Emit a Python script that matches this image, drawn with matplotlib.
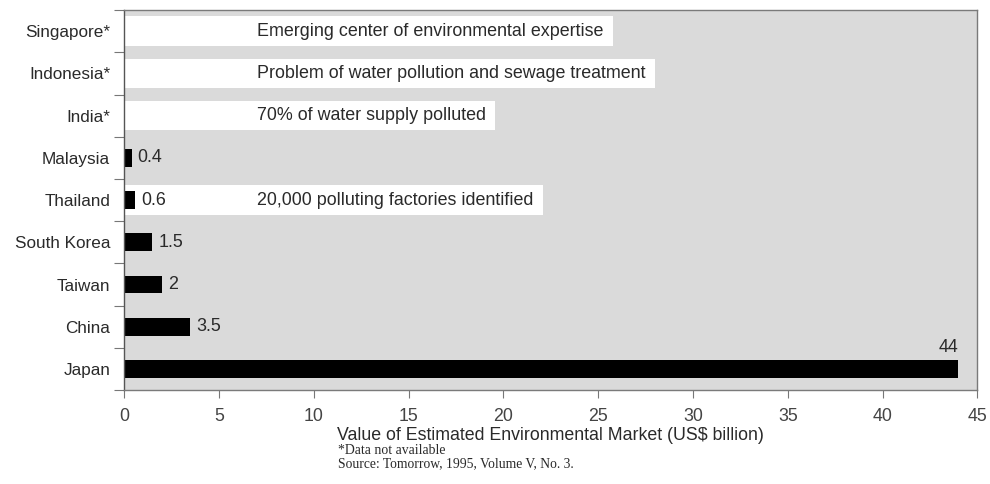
import matplotlib
matplotlib.use("Agg")
import matplotlib.pyplot as plt
from matplotlib.patches import Rectangle
from matplotlib.ticker import FixedLocator

plt.rcParams['font.family'] = ['Liberation Sans', 'DejaVu Sans']

# data (bottom to top)
countries = ['Japan', 'China', 'Taiwan', 'South Korea', 'Thailand', 'Malaysia',
             'India*', 'Indonesia*', 'Singapore*']
values = [44, 3.5, 2, 1.5, 0.6, 0.4, None, None, None]
value_labels = ['44', '3.5', '2', '1.5', '0.6', '0.4', '', '', '']
notes = {
    'Singapore*': 'Emerging center of environmental expertise',
    'Indonesia*': 'Problem of water pollution and sewage treatment',
    'India*': '70% of water supply polluted',
    'Thailand': '20,000 polluting factories identified',
}
xticks = [0, 5, 10, 15, 20, 25, 30, 35, 40, 45]

txt = '#2a2a2a'
fig = plt.figure(figsize=(9.9, 4.84), dpi=100)
ax = fig.add_axes([0.1253, 0.194, 0.862, 0.785])
ax.set_facecolor('#dadada')
ax.set_xlim(0, 45)
ax.set_ylim(-0.5, len(countries) - 0.5)

fig.canvas.draw()
renderer = fig.canvas.get_renderer()

# white note boxes with text
for i, c in enumerate(countries):
    if c in notes:
        t = ax.text(7.0, i, notes[c], va='center', ha='left', fontsize=12.9,
                    color=txt, zorder=3)
        bb = t.get_window_extent(renderer).transformed(ax.transData.inverted())
        ax.add_patch(Rectangle((0, i - 0.35), bb.x1 + 0.5, 0.7,
                               facecolor='white', edgecolor='none', zorder=1))

ys = [i for i, v in enumerate(values) if v is not None]
vs = [v for v in values if v is not None]
ax.barh(ys, vs, height=0.42, color='black', zorder=2)

for i, (v, lab) in enumerate(zip(values, value_labels)):
    if v is None:
        continue
    if v > 40:
        ax.text(v, i + 0.3, lab, ha='right', va='bottom', fontsize=12.9, color=txt, zorder=3)
    else:
        ax.text(v + 0.3, i, lab, ha='left', va='center', fontsize=12.9, color=txt, zorder=3)

ax.set_yticks(range(len(countries)))
ax.set_yticklabels(countries, fontsize=12.3, color=txt)
ax.tick_params(axis='y', which='major', length=0, pad=10)
ax.yaxis.set_minor_locator(FixedLocator([i - 0.5 for i in range(len(countries) + 1)]))
ax.tick_params(axis='y', which='minor', length=7, color='#777777', width=0.8)

ax.set_xticks(xticks)
ax.set_xticklabels([str(x) for x in xticks], fontsize=12.8, color='#444444')
ax.tick_params(axis='x', length=6, color='#777777', width=0.8, pad=7)

for s in ax.spines.values():
    s.set_color('#7a7a7a')
    s.set_linewidth(1.0)
ax.spines['left'].set_color('#555555')

ax.set_xlabel('Value of Estimated Environmental Market (US$ billion)', fontsize=12.8,
              color=txt, labelpad=1)
fig.text(0.3414, 0.0702, '*Data not available', fontsize=9.9,
         family=['Liberation Serif', 'DejaVu Serif'], color=txt, va='center')
fig.text(0.3414, 0.0413, 'Source: Tomorrow, 1995, Volume V, No. 3.', fontsize=9.8,
         family=['Liberation Serif', 'DejaVu Serif'], color=txt, va='center')

fig.savefig('out.png', dpi=100)
